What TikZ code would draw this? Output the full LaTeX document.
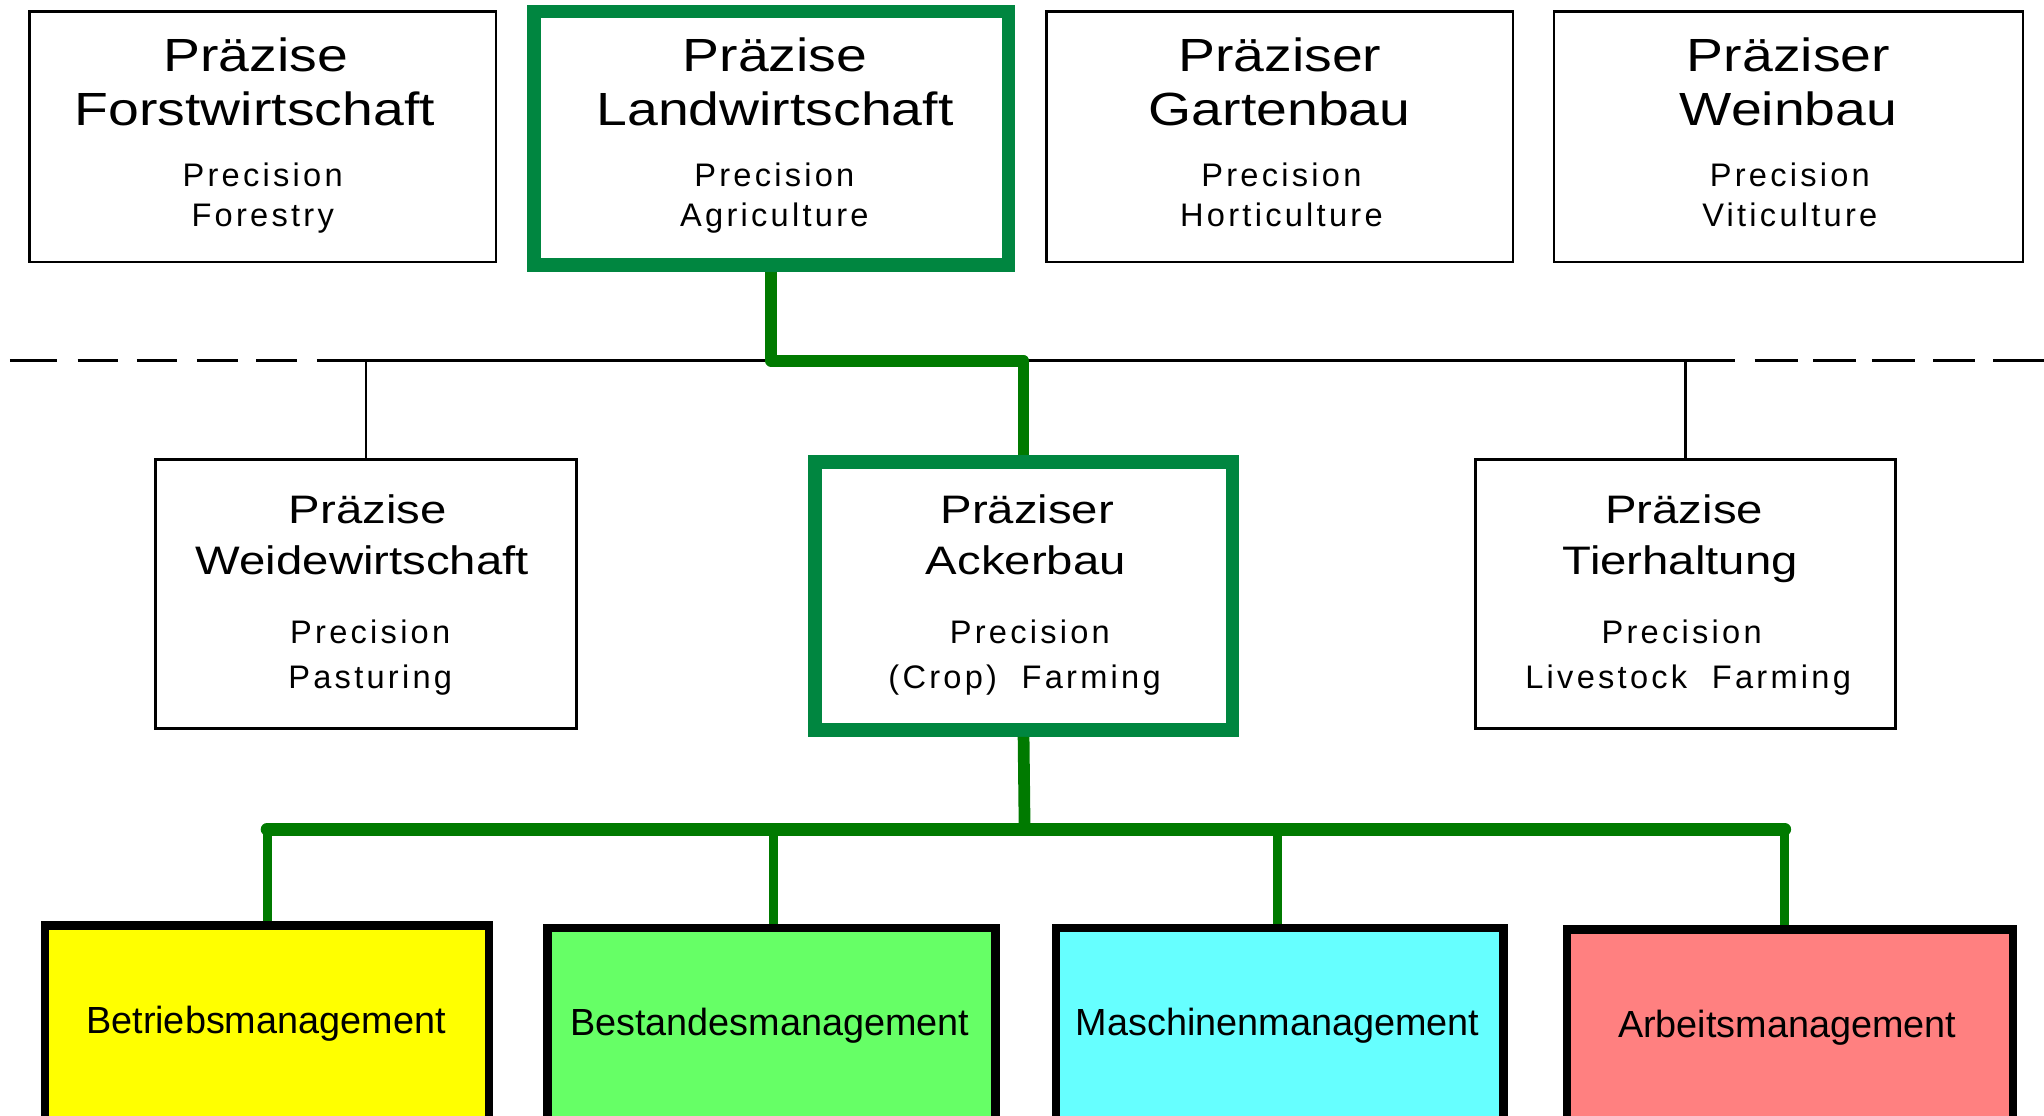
\documentclass[tikz,border=0pt]{standalone}
\usepackage{fontspec}
\setmainfont{Liberation Sans}
\newfontfamily\headfont[FakeStretch=1.19]{Liberation Sans}
\newfontfamily\engfont[LetterSpace=10]{Liberation Sans}
\newfontfamily\labfont{Liberation Sans}
\usetikzlibrary{calc}
\definecolor{framegreen}{RGB}{0,134,64}
\definecolor{conngreen}{RGB}{0,122,0}
\definecolor{fillyellow}{RGB}{255,255,0}
\definecolor{fillgreen}{RGB}{102,255,102}
\definecolor{fillcyan}{RGB}{102,255,255}
\definecolor{fillred}{RGB}{255,128,128}
\begin{document}
\begin{tikzpicture}[x=1pt,y=-1pt,
  topbox/.style={draw=black, line width=2pt, minimum width=358pt, minimum height=192.3pt, inner sep=0pt},
  midbox/.style={draw=black, line width=2pt, minimum width=323pt, minimum height=206.5pt, inner sep=0pt},
  hilite/.style={draw=framegreen, line width=10.5pt},
  mgmt/.style={draw=black, line width=6.5pt, minimum height=160pt, inner sep=0pt},
  head/.style={anchor=base, inner sep=0pt, font=\headfont\fontsize{35.7pt}{40pt}\selectfont},
  subhead/.style={anchor=base, inner sep=0pt, font=\headfont\fontsize{30.5pt}{35pt}\selectfont},
  eng/.style={anchor=base, inner sep=0pt, font=\engfont\fontsize{25pt}{30pt}\selectfont},
  mlabel/.style={anchor=base, inner sep=0pt, font=\labfont\fontsize{29pt}{34pt}\selectfont},
  axis/.style={draw=black, line width=2.3pt},
  thin/.style={draw=black, line width=1.8pt},
  gconn/.style={draw=conngreen, line width=9pt, line join=round},
  gbar/.style={draw=conngreen, line width=10pt, line cap=round, line join=round},
  gdrop/.style={draw=conngreen, line width=7pt}]
\useasboundingbox (0,0) rectangle (1568,856);
\clip (0,0) rectangle (1568,856);

% --- top row: precision domains ---
\node[topbox] (forst) at (201.5,104.85) {};
\node[topbox, hilite, minimum width=364.2pt, minimum height=194.3pt] (land) at (591.6,106) {};
\node[topbox] (garten) at (981.7,104.85) {};
\node[topbox, minimum width=359.8pt] (wein) at (1372,104.85) {};

\node[head] (forstA) at (196,55) {Präzise};
\node[head] (forstB) at (195.5,96) {Forstwirtschaft};
\node[eng]  (forstC) at (201.5,143) {Precision};
\node[eng]  (forstD) at (201.5,174) {Forestry};

\node[head] (landA) at (594.5,55) {Präzise};
\node[head] (landB) at (594.5,96) {Landwirtschaft};
\node[eng]  (landC) at (594,143) {Precision};
\node[eng]  (landD) at (594,174) {Agriculture};

\node[head] (gartenA) at (981.7,55) {Präziser};
\node[head] (gartenB) at (981.7,96) {Gartenbau};
\node[eng]  (gartenC) at (983,143) {Precision};
\node[eng]  (gartenD) at (983,174) {Horticulture};

\node[head] (weinA) at (1372,55) {Präziser};
\node[head] (weinB) at (1372,96) {Weinbau};
\node[eng]  (weinC) at (1373,143) {Precision};
\node[eng]  (weinD) at (1373,174) {Viticulture};

% --- separating line, dashed at both ends ---
\coordinate (hub1) at (786,276.8);
\foreach \a/\b in {7.5/44, 59.5/90.7, 105/136, 151/182.5, 196.6/227.8,
                   1346/1379, 1391/1424, 1436/1469, 1483/1515, 1529/1570}
  \draw[axis] (\a,276.8) -- (\b,276.8);
\draw[axis] (243,276.8) -- (1331,276.8);

% --- middle row ---
\node[midbox] (weide) at (280.7,455.75) {};
\node[midbox, hilite, minimum width=320.3pt, minimum height=205.5pt] (acker) at (785.2,457.25) {};
\node[midbox, minimum width=322.3pt] (tier) at (1293,455.75) {};

\node[subhead] (weideA) at (282,401.5) {Präzise};
\node[subhead] (weideB) at (278,441) {Weidewirtschaft};
\node[eng]     (weideC) at (284,493.5) {Precision};
\node[eng]     (weideD) at (284,528) {Pasturing};

\node[subhead] (ackerA) at (788,401.5) {Präziser};
\node[subhead] (ackerB) at (787,441) {Ackerbau};
\node[eng]     (ackerC) at (790,493.5) {Precision};
\node[eng]     (ackerD) at (786,528) {(Crop)~~Farming};

\node[subhead] (tierA) at (1292,401.5) {Präzise};
\node[subhead] (tierB) at (1289,441) {Tierhaltung};
\node[eng]     (tierC) at (1290,493.5) {Precision};
\node[eng]     (tierD) at (1295,528) {Livestock~~Farming};

\draw[thin] (weide.north) -- (weide.north |- hub1);
\draw[thin] (tier.north) -- (tier.north |- hub1);

% --- highlighted path: agriculture -> crop farming ---
\draw[gconn] (land.south) |- (acker.north |- hub1) -- (acker.north);

% --- bottom row: management fields ---
\coordinate (hub2) at (786,636);
\coordinate (d1) at (205,636);
\coordinate (d2) at (593.5,636);
\coordinate (d3) at (980,636);
\coordinate (d4) at (1369,636);

\node[mgmt, fill=fillyellow, minimum width=340.5pt] (betr) at (204.75,790) {};
\node[mgmt, fill=fillgreen, minimum width=343.5pt] (best) at (591.75,792) {};
\node[mgmt, fill=fillcyan, minimum width=343.5pt] (masch) at (981.75,792) {};
\node[mgmt, fill=fillred, minimum width=342pt] (arb) at (1373,793) {};

\node[mlabel] (betrT)  at (204,792.7) {Betriebsmanagement};
\node[mlabel] (bestT)  at (590.5,794.7) {Bestandesmanagement};
\node[mlabel] (maschT) at (980,794.7) {Maschinenmanagement};
\node[mlabel] (arbT)   at (1371,796) {Arbeitsmanagement};

\draw[gconn] (acker.south) -- (hub2);
\draw[gbar] (d1) -- (d4);
\draw[gdrop] (d1) -- (d1 |- betr.north);
\draw[gdrop] (d2) -- (d2 |- best.north);
\draw[gdrop] (d3) -- (d3 |- masch.north);
\draw[gdrop] (d4) -- (d4 |- arb.north);
\end{tikzpicture}
\end{document}
